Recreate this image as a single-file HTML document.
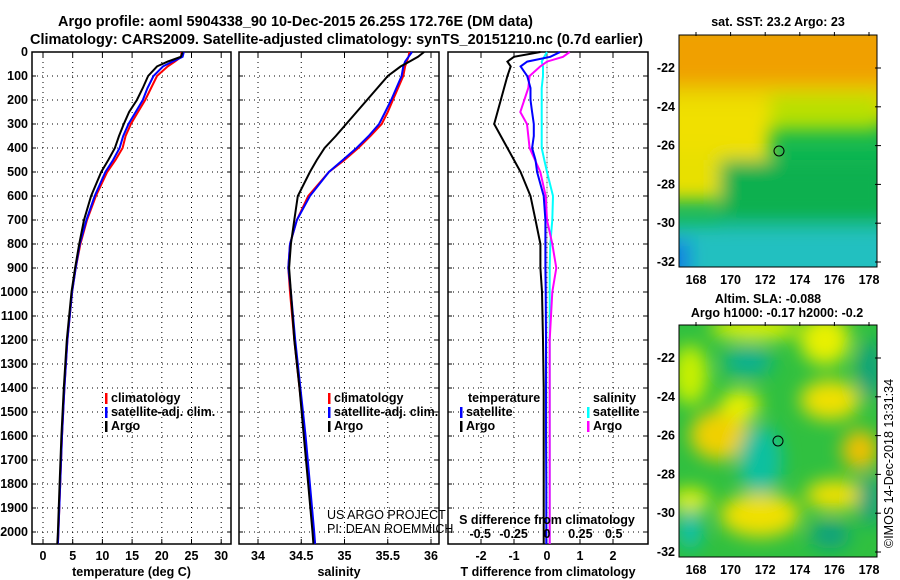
<!DOCTYPE html>
<html><head><meta charset="utf-8"><style>
body{margin:0;background:#fff;}
svg{display:block;font-family:"Liberation Sans",sans-serif;font-weight:bold;}
.t{font-size:12.5px;fill:#000;}
.grid{stroke:#000;stroke-width:1;stroke-dasharray:1 4;}
</style></head><body>
<svg id="c" width="900" height="580" viewBox="0 0 900 580" xmlns="http://www.w3.org/2000/svg">
<defs>
<filter id="bl" x="-50%" y="-50%" width="200%" height="200%"><feGaussianBlur stdDeviation="9"/></filter>
<clipPath id="cm1"><rect x="679" y="35" width="198" height="232"/></clipPath>
<clipPath id="cm2"><rect x="679" y="325" width="198" height="232"/></clipPath>
</defs>
<text x="58" y="26" font-size="14.5" textLength="475" lengthAdjust="spacingAndGlyphs">Argo profile: aoml 5904338_90 10-Dec-2015 26.25S 172.76E (DM data)</text>
<text x="30" y="44" font-size="14.5" textLength="613" lengthAdjust="spacingAndGlyphs">Climatology: CARS2009. Satellite-adjusted climatology: synTS_20151210.nc (0.7d earlier)</text>
<g id="panels"></g>
<!-- SST map -->
<g>
<text class="t" x="778" y="26" text-anchor="middle" font-size="13">sat. SST: 23.2 Argo: 23</text>
<g clip-path="url(#cm1)">
<rect x="679" y="35" width="198" height="232" fill="#10b850"/>
<g filter="url(#bl)">
<rect x="660" y="20" width="240" height="80" fill="#f0a000"/>
<rect x="660" y="85" width="240" height="35" fill="#e8d000"/>
<rect x="660" y="100" width="110" height="60" fill="#f0e000"/>
<rect x="660" y="150" width="70" height="50" fill="#e8e000"/>
<rect x="770" y="95" width="110" height="35" fill="#b8e000"/>
<rect x="720" y="160" width="170" height="60" fill="#10b050"/>
<rect x="660" y="225" width="240" height="60" fill="#20c0c0"/>
<rect x="660" y="240" width="30" height="40" fill="#1080e0"/>
</g>
</g>
<rect x="679" y="35" width="198" height="232" fill="none" stroke="#000"/>
<circle cx="779" cy="151" r="5" fill="none" stroke="#000"/>
</g>
<!-- SLA map -->
<g>
<text class="t" x="768" y="303" text-anchor="middle" font-size="13">Altim. SLA: -0.088</text>
<text class="t" x="777" y="317" text-anchor="middle" font-size="13">Argo h1000: -0.17 h2000: -0.2</text>
<g clip-path="url(#cm2)">
<rect x="679" y="325" width="198" height="232" fill="#30c040"/>
<g filter="url(#bl)">
<ellipse cx="690" cy="375" rx="18" ry="30" fill="#c8f000"/>
<ellipse cx="755" cy="328" rx="45" ry="12" fill="#e0f000"/>
<ellipse cx="825" cy="340" rx="25" ry="25" fill="#e8f000"/>
<ellipse cx="830" cy="400" rx="30" ry="20" fill="#f0e000"/>
<ellipse cx="720" cy="435" rx="30" ry="25" fill="#f0d000"/>
<ellipse cx="740" cy="405" rx="20" ry="15" fill="#e8f000"/>
<ellipse cx="860" cy="450" rx="18" ry="20" fill="#f0c000"/>
<ellipse cx="835" cy="495" rx="30" ry="15" fill="#f0e000"/>
<ellipse cx="760" cy="515" rx="40" ry="22" fill="#f0e000"/>
<ellipse cx="690" cy="500" rx="20" ry="12" fill="#e0f000"/>
<ellipse cx="748" cy="362" rx="25" ry="15" fill="#10b090"/>
<ellipse cx="760" cy="460" rx="22" ry="35" fill="#10c0a0"/>
<ellipse cx="690" cy="530" rx="12" ry="20" fill="#10c0b0"/>
<ellipse cx="830" cy="535" rx="20" ry="14" fill="#10a080"/>
<ellipse cx="870" cy="370" rx="12" ry="30" fill="#10a080"/>
<ellipse cx="870" cy="500" rx="12" ry="25" fill="#10a080"/>
</g>
</g>
<rect x="679" y="325" width="198" height="232" fill="none" stroke="#000"/>
<circle cx="778" cy="441" r="5" fill="none" stroke="#000"/>
<text class="t" transform="translate(893,548) rotate(-90)" font-weight="normal" font-size="12">©IMOS 14-Dec-2018 13:31:34</text>
</g>
<g id="mapaxes"></g>
</svg>
<script>
const NS="http://www.w3.org/2000/svg";
const depthTicks=[0,100,200,300,400,500,600,700,800,900,1000,1100,1200,1300,1400,1500,1600,1700,1800,1900,2000];
const tTicks=[0,5,10,15,20,25,30];
const sTicks=[34,34.5,35,35.5,36];
const dtTicks=[-2,-1,0,1,2];
const dsTicks=[-0.5,-0.25,0,0.25,0.5];
const dsTickLabels=["-0.5","-0.25","0","0.25","0.5"];
const depths=[0,20,40,60,100,150,200,250,300,350,400,450,500,600,700,800,900,1000,1200,1400,1600,1800,2000,2050];
const tempArgo=[23.5,23.2,21,19.2,17.7,16.8,15.8,14.5,13.6,12.8,12.1,11,9.8,8.1,6.9,6.1,5.4,4.8,4.0,3.5,3.1,2.8,2.5,2.4];
const tempClim=[23.3,23.3,22.2,21,19.2,18.2,17.2,16,14.8,13.9,13.4,12.2,10.8,8.9,7.4,6.3,5.5,4.9,4.1,3.6,3.2,2.9,2.6,2.5];
const tempSat=[23.7,23.5,21.8,20.2,18.6,17.6,16.8,15.6,14.4,13.5,12.9,11.8,10.5,8.7,7.3,6.2,5.5,4.9,4.1,3.6,3.2,2.9,2.6,2.5];
const salArgo=[35.92,35.85,35.75,35.65,35.5,35.38,35.26,35.14,35.02,34.9,34.77,34.68,34.6,34.46,34.42,34.38,34.36,34.38,34.42,34.48,34.53,34.58,34.63,34.64];
const salClim=[35.75,35.74,35.72,35.7,35.68,35.62,35.56,35.5,35.43,35.3,35.16,35.0,34.82,34.58,34.45,34.37,34.35,34.37,34.42,34.48,34.54,34.59,34.64,34.66];
const salSat=[35.78,35.74,35.7,35.68,35.66,35.6,35.54,35.47,35.4,35.28,35.14,34.98,34.82,34.6,34.45,34.37,34.35,34.38,34.43,34.49,34.55,34.6,34.65,34.66];
const dTArgo=[-0.2,-1.0,-1.2,-1.1,-1.2,-1.3,-1.4,-1.5,-1.6,-1.4,-1.2,-1.0,-0.8,-0.5,-0.35,-0.2,-0.2,-0.15,-0.12,-0.1,-0.1,-0.1,-0.1,-0.1];
const dTSat=[0.4,0.1,-0.6,-0.8,-0.6,-0.5,-0.5,-0.45,-0.4,-0.4,-0.45,-0.35,-0.3,-0.1,-0.05,-0.05,-0.05,-0.04,-0.03,-0.03,-0.03,-0.02,-0.02,-0.02];
const dSArgo=[0.17,0.12,0.0,-0.05,-0.13,-0.14,-0.17,-0.2,-0.15,-0.14,-0.13,-0.09,-0.05,-0.01,0.0,0.04,0.07,0.04,0.02,0.02,0.02,0.02,0.02,0.02];
const dSSat=[0.0,-0.02,-0.04,-0.03,-0.03,-0.04,-0.04,-0.04,-0.04,-0.04,-0.04,-0.02,0.0,0.045,0.04,0.025,0.02,0.02,0.02,0.02,0.02,0.02,0.02,0.02];
const mapLat=[-22,-24,-26,-28,-30,-32];
const mapLon=[168,170,172,174,176,178];

const Y=d=>52+d*0.24;
const xT=t=>43+t*5.94, xS=s=>258+(s-34)*86.5, xDT=v=>547+v*33, xDS=v=>547+v*133.5;
const svg=document.getElementById('c'), P=document.getElementById('panels');
function el(tag,attrs,parent,text){const e=document.createElementNS(NS,tag);for(const k in attrs)e.setAttribute(k,attrs[k]);if(text!==undefined)e.textContent=text;(parent||P).appendChild(e);return e;}
function panel(x0,x1,xs,ticks,labels,title,name,leftLabels){
  const g=el('g',{});
  
  
  depthTicks.forEach(d=>{if(d>0&&d<2050)el('line',{x1:x0,x2:x1,y1:Y(d),y2:Y(d),class:'grid'},g);
    el('line',{x1:x0,x2:x0+4,y1:Y(d),y2:Y(d),stroke:'#000'},g);el('line',{x1:x1-4,x2:x1,y1:Y(d),y2:Y(d),stroke:'#000'},g);
    if(leftLabels){const t=el('text',{x:28,y:Y(d)+4,class:'t','text-anchor':'end'},g,d);}});
  ticks.forEach((v,i)=>{const x=xs(v);el('line',{x1:x,x2:x,y1:52,y2:544,class:'grid'},g);
    el('line',{x1:x,x2:x,y1:52,y2:57,stroke:'#000'},g);el('line',{x1:x,x2:x,y1:539,y2:544,stroke:'#000'},g);
    if(labels){const t=el('text',{x:x,y:560,class:'t','text-anchor':'middle'},g,labels[i]);}});
  el('rect',{x:x0,y:52,width:x1-x0,height:492,fill:'none',stroke:'#000','stroke-width':1.5},g);
  const tt=el('text',{x:(x0+x1)/2,y:576,class:'t','text-anchor':'middle'},g,title);
  
  return g;
}
function line(g,vals,xs,color,name){
  const pts=vals.map((v,i)=>xs(v).toFixed(1)+','+Y(depths[i]).toFixed(1)).join(' ');
  const p=el('polyline',{points:pts,fill:'none',stroke:color,'stroke-width':2},g);
  
  
}
function legend(g,x,y,items){items.forEach((it,i)=>{el('rect',{x:x,y:y+i*14-9,width:2.5,height:11,fill:it[1]},g);
  const t=el('text',{x:x+6,y:y+i*14,class:'t'},g,it[0]);});}

const g1=panel(32,231,xT,tTicks,tTicks,'temperature (deg C)','temperature-panel',true);
line(g1,tempClim,xT,'#f00','temperature-climatology-line');
line(g1,tempSat,xT,'#00f','temperature-satellite-line');
line(g1,tempArgo,xT,'#000','temperature-argo-line');
legend(g1,105,402,[['climatology','#f00'],['satellite-adj. clim.','#00f'],['Argo','#000']]);

const g2=panel(239,439,xS,sTicks,sTicks,'salinity','salinity-panel',false);
line(g2,salClim,xS,'#f00','salinity-climatology-line');
line(g2,salSat,xS,'#00f','salinity-satellite-line');
line(g2,salArgo,xS,'#000','salinity-argo-line');
legend(g2,328,402,[['climatology','#f00'],['satellite-adj. clim.','#00f'],['Argo','#000']]);
el('text',{x:327,y:519,class:'t','font-weight':'normal'},g2,'US ARGO PROJECT');
el('text',{x:327,y:533,class:'t','font-weight':'normal'},g2,'PI: DEAN ROEMMICH');

const g3=panel(448,648,xDT,dtTicks,dtTicks,'T difference from climatology','difference-panel',false);
el('line',{x1:547,x2:547,y1:52,y2:544,stroke:'#888','stroke-width':0.5},g3);
line(g3,dSSat,xDS,'#0ff','salinity-satellite-diff-line');
line(g3,dSArgo,xDS,'#f0f','salinity-argo-diff-line');
line(g3,dTSat,xDT,'#00f','temperature-satellite-diff-line');
line(g3,dTArgo,xDT,'#000','temperature-argo-diff-line');
el('text',{x:468,y:402,class:'t'},g3,'temperature');
legend(g3,460,416,[['satellite','#00f'],['Argo','#000']]);
el('text',{x:593,y:402,class:'t'},g3,'salinity');
legend(g3,587,416,[['satellite','#0ff'],['Argo','#f0f']]);
el('text',{x:547,y:524,class:'t','text-anchor':'middle'},g3,'S difference from climatology');
dsTicks.forEach((v,i)=>{const t=el('text',{x:xDS(v),y:538,class:'t','text-anchor':'middle'},g3,dsTickLabels[i]);});

const MA=document.getElementById('mapaxes');
const latY=(la,ly)=>ly+(-22-la)*19.4;
[[35,267,68],[325,557,358]].forEach(([y0,y1,ly])=>{
  mapLat.forEach(la=>{const y=latY(la,ly);
    el('line',{x1:875,x2:881,y1:y,y2:y,stroke:'#000'},MA);
    const t=el('text',{x:675,y:y+4,class:'t','text-anchor':'end'},MA,la);});
  mapLon.forEach(lo=>{const x=696+(lo-168)*17.3;
    el('line',{x1:x,x2:x,y1:y0-3,y2:y0+1,stroke:'#000'},MA);
    const t=el('text',{x:x,y:y1+17,class:'t','text-anchor':'middle'},MA,lo);});
});
</script>
</body></html>
